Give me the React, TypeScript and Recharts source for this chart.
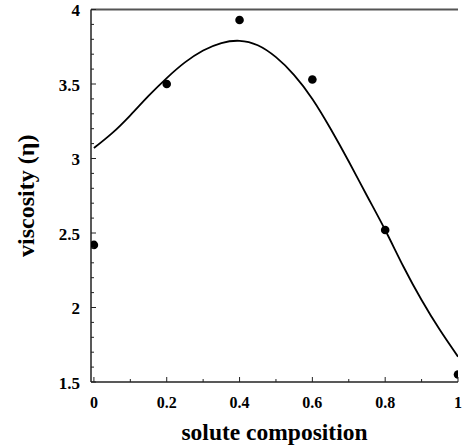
import React from 'react';
import { ComposedChart, Line, Scatter, XAxis, YAxis, ReferenceLine, Label } from 'recharts';

const measuredX = [0, 0.2, 0.4, 0.6, 0.8, 1.0];
const measuredViscosity = [2.42, 3.5, 3.93, 3.53, 2.52, 1.55];

const fitX = [0, 0.05, 0.1, 0.15, 0.2, 0.25, 0.3, 0.35, 0.4, 0.45, 0.5, 0.55, 0.6, 0.65, 0.7, 0.75, 0.8, 0.85, 0.9, 0.95, 1.0];
const fitViscosity = [3.07, 3.17, 3.29, 3.42, 3.54, 3.645, 3.725, 3.775, 3.79, 3.76, 3.68, 3.56, 3.4, 3.2, 2.98, 2.75, 2.52, 2.275, 2.05, 1.85, 1.67];

const xTicks = [0, 0.1, 0.2, 0.3, 0.4, 0.5, 0.6, 0.7, 0.8, 0.9, 1];
const xMajorTicks = [0, 0.2, 0.4, 0.6, 0.8, 1];
const xTickLabels = ['0', '0.2', '0.4', '0.6', '0.8', '1'];

const yTicks = [1.5, 1.6, 1.7, 1.8, 1.9, 2, 2.1, 2.2, 2.3, 2.4, 2.5, 2.6, 2.7, 2.8, 2.9, 3, 3.1, 3.2, 3.3, 3.4, 3.5, 3.6, 3.7, 3.8, 3.9, 4];
const yMajorTicks = [1.5, 2, 2.5, 3, 3.5, 4];
const yTickLabels = ['1.5', '2', '2.5', '3', '3.5', '4'];

const scatterData = measuredX.map((x, i) => ({ x, v: measuredViscosity[i] }));
const fitData = fitX.map((x, i) => ({ x, v: fitViscosity[i] }));

const FONT = '"Liberation Serif", "Times New Roman", serif';
const AXIS = '#222';

const near = (a: number, b: number) => Math.abs(a - b) < 1e-6;

const XTick = (props: any) => {
  const { x, y, payload } = props;
  const idx = xMajorTicks.findIndex((m) => near(m, payload.value));
  const major = idx >= 0;
  return (
    <g>
      <line x1={x} x2={x} y1={y} y2={y - (major ? 5 : 3)} stroke={AXIS} strokeWidth={1} />
      {major && (
        <text x={x} y={y + 20} textAnchor="middle" dominantBaseline="central" fontFamily={FONT} fontWeight="bold" fontSize={16} fill="#000">
          {xTickLabels[idx]}
        </text>
      )}
    </g>
  );
};

const YTick = (props: any) => {
  const { x, y, payload } = props;
  const idx = yMajorTicks.findIndex((m) => near(m, payload.value));
  const major = idx >= 0;
  return (
    <g>
      <line x1={x} x2={x + (major ? 5 : 3)} y1={y} y2={y} stroke={AXIS} strokeWidth={1} />
      {major && (
        <text x={x - 11} y={y + 1} textAnchor="end" dominantBaseline="central" fontFamily={FONT} fontWeight="bold" fontSize={17} fill="#000">
          {yTickLabels[idx]}
        </text>
      )}
    </g>
  );
};

const XTitle = (props: any) => {
  const { viewBox } = props;
  const cx = viewBox.x + viewBox.width / 2;
  return (
    <text x={cx} y={432} textAnchor="middle" dominantBaseline="central" fontFamily={FONT} fontWeight="bold" fontSize={23.5} fill="#000">
      solute composition
    </text>
  );
};

const YTitle = (props: any) => {
  const { viewBox } = props;
  const cx = 26;
  const cy = viewBox.y + viewBox.height / 2;
  return (
    <text x={cx} y={cy} transform={`rotate(-90 ${cx} ${cy})`} textAnchor="middle" dominantBaseline="central" fontFamily={FONT} fontWeight="bold" fontSize={24} fill="#000">
      viscosity (η)
    </text>
  );
};

export default function App() {
  return (
    <div style={{ position: 'absolute', left: 0, top: 0, background: '#fff' }}>
      <ComposedChart width={462} height={447} margin={{ top: 9.5, right: 4, bottom: 0, left: 0 }}>
        <XAxis
          type="number"
          dataKey="x"
          domain={[-0.008, 1]}
          ticks={xTicks}
          interval={0}
          tickSize={0}
          tickMargin={0}
          tickLine={false}
          tick={<XTick />}
          height={65}
          axisLine={{ stroke: AXIS, strokeWidth: 1.5 }}
          allowDataOverflow
        >
          <Label content={<XTitle />} />
        </XAxis>
        <YAxis
          type="number"
          dataKey="v"
          domain={[1.5, 4]}
          ticks={yTicks}
          interval={0}
          tickSize={0}
          tickMargin={0}
          tickLine={false}
          tick={<YTick />}
          width={91}
          axisLine={{ stroke: AXIS, strokeWidth: 1.5 }}
          allowDataOverflow
        >
          <Label content={<YTitle />} />
        </YAxis>
        <ReferenceLine y={4} stroke="#555" strokeWidth={2} ifOverflow="visible" />
        <Line data={fitData} dataKey="v" type="natural" stroke="#000" strokeWidth={1.8} dot={false} activeDot={false} isAnimationActive={false} />
        <Scatter data={scatterData} dataKey="v" fill="#000" isAnimationActive={false} shape={(p: any) => <circle cx={p.cx} cy={p.cy} r={4.3} fill="#000" />} />
      </ComposedChart>
    </div>
  );
}
